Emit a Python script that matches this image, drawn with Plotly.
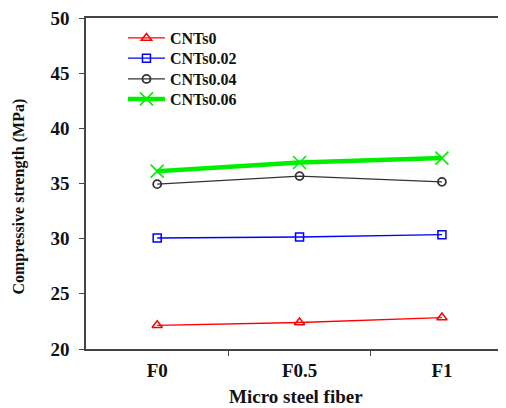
import plotly.graph_objects as go

categories = ["F0", "F0.5", "F1"]
cnts0 = [22.15, 22.4, 22.85]
cnts002 = [30.06, 30.15, 30.36]
cnts004 = [34.94, 35.67, 35.15]
cnts006 = [36.12, 36.9, 37.3]
series_names = ["CNTs0", "CNTs0.02", "CNTs0.04", "CNTs0.06"]
y_ticks = [20, 25, 30, 35, 40, 45, 50]

FONT = "Liberation Serif"
xs = list(range(len(categories)))
legend_ids = ["legend", "legend2", "legend3", "legend4"]
legend_y = [0.9395, 0.8782, 0.8156, 0.7552]

fig = go.Figure()
styles = [
    (cnts0, "#FF0000", 1.3, "triangle-up-open", 9, 1.5),
    (cnts002, "#0000FF", 1.3, "square-open", 8, 1.5),
    (cnts004, "#333333", 1.3, "circle-open", 8, 1.8),
    (cnts006, "#00EE00", 4.5, "x-thin-open", 13, 1.6),
]
for name, lid, (vals, col, lw, sym, ms, mlw) in zip(series_names, legend_ids, styles):
    fig.add_trace(go.Scatter(
        x=xs, y=vals, name=name, mode="lines+markers", legend=lid,
        line=dict(color=col, width=lw),
        marker=dict(symbol=sym, size=ms, color=col, line=dict(color=col, width=mlw)),
    ))

axcol = "#444444"
bold = lambda s: f"<b>{s}</b>"
legend_style = dict(
    x=0.088, xanchor="left", yanchor="middle",
    font=dict(family=FONT, size=16, color="#111111", weight="bold"),
    bgcolor="rgba(0,0,0,0)", itemwidth=37,
)
legends = {lid: dict(legend_style, y=ly) for lid, ly in zip(legend_ids, legend_y)}

fig.update_layout(
    width=498, height=400,
    margin=dict(l=78, r=0, t=10, b=59),
    paper_bgcolor="white", plot_bgcolor="white",
    showlegend=True,
    **legends,
    xaxis=dict(
        range=[-0.5, 2.45], tickmode="array", tickvals=xs,
        ticktext=[bold(c) for c in categories],
        ticks="", showgrid=False, zeroline=False,
        showline=True, linecolor=axcol, linewidth=1.5, mirror=True,
        tickfont=dict(family=FONT, size=19, color="#111111"),
        ticklabelstandoff=3,
        minor=dict(tickmode="array", tickvals=[0.5, 1.5], ticks="outside",
                   ticklen=5, tickwidth=1.2, tickcolor=axcol, showgrid=False),
    ),
    yaxis=dict(
        range=[20, 50], tickmode="array", tickvals=y_ticks,
        ticktext=[bold(v) for v in y_ticks],
        ticks="outside", ticklen=5, tickwidth=1.2, tickcolor=axcol,
        showgrid=False, zeroline=False,
        showline=True, linecolor=axcol, linewidth=1.5, mirror=False,
        tickfont=dict(family=FONT, size=19, color="#111111"),
        ticklabelstandoff=6, ticklabeloverflow="allow",
    ),
    annotations=[
        dict(text="<b>Micro steel fiber</b>", xref="paper", yref="paper",
             x=0.5, y=-0.145, xanchor="center", yanchor="middle", showarrow=False,
             font=dict(family=FONT, size=19, color="#111111")),
        dict(text="<b>Compressive strength (MPa)</b>", xref="paper", yref="paper",
             x=-0.16, y=0.46, xanchor="center", yanchor="middle", showarrow=False,
             textangle=-90,
             font=dict(family=FONT, size=16, color="#111111")),
    ],
)

fig.write_html("out.html")
